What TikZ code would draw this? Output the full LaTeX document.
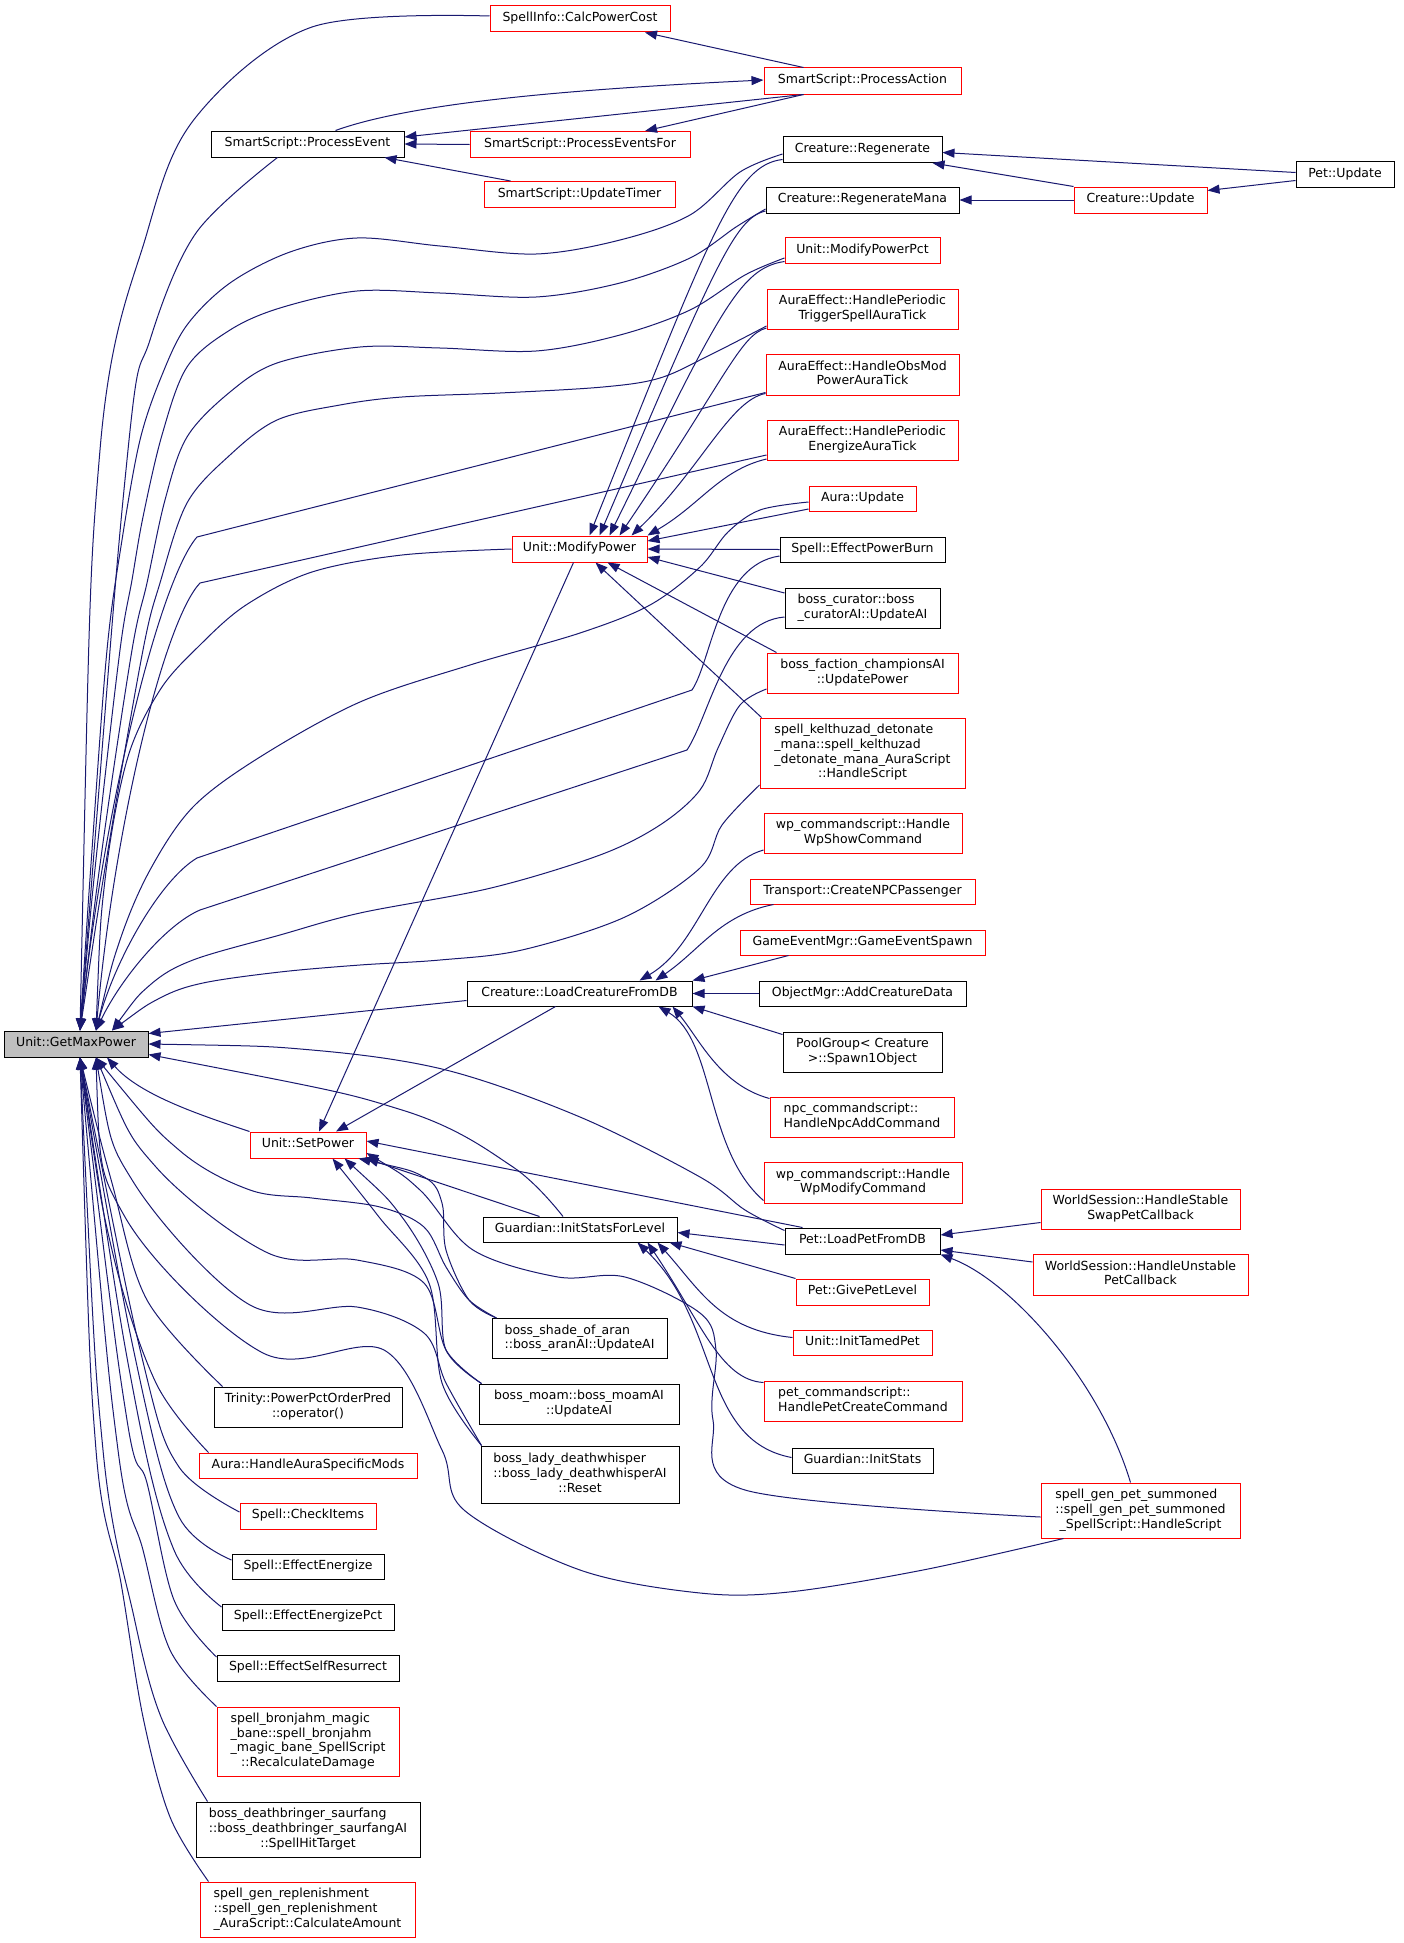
\documentclass[tikz,border=0pt]{standalone}
\usepackage{fontspec}
\setmainfont{DejaVu Sans}
\usetikzlibrary{arrows.meta}
\definecolor{edgec}{HTML}{191970}
\newcommand\nl[1]{\begin{tabular}{@{}c@{}}#1\end{tabular}}
\newcommand\mlab[2]{\begin{tabular}{@{}l@{}}#1\\\multicolumn{1}{@{}c@{}}{#2}\end{tabular}}
\tikzset{
 box/.style={draw, line width=1pt, inner sep=0pt, font=\fontsize{12.5}{14.7}\selectfont, anchor=center, minimum height=26pt},
 rbox/.style={box, draw=red},
 bbox/.style={box, draw=black},
 >={Triangle[length=12pt,width=9pt]},
 e/.style={draw=edgec, line width=1pt, <-},
 sm/.style={smooth, tension=0.55},
}
\begin{document}
\begin{tikzpicture}[x=1pt,y=-1pt]
\fill[white] (0,0) rectangle (1403,1943);
\useasboundingbox (0,0) rectangle (1403,1943);
% nodes
\node[rbox, minimum width=180pt] (spi) at (580,19) {\nl{SpellInfo::CalcPowerCost}};
\node[bbox, minimum width=193pt] (pev) at (307.5,144) {\nl{SmartScript::ProcessEvent}};
\node[rbox, minimum width=220pt] (pef) at (580,144.5) {\nl{SmartScript::ProcessEventsFor}};
\node[rbox, minimum width=191pt] (put) at (579.5,194.5) {\nl{SmartScript::UpdateTimer}};
\node[rbox, minimum width=197pt] (pac) at (862.5,81) {\nl{SmartScript::ProcessAction}};
\node[bbox, minimum width=159pt] (creg) at (862.5,149.5) {\nl{Creature::Regenerate}};
\node[bbox, minimum width=98pt] (petu) at (1345,174.5) {\nl{Pet::Update}};
\node[bbox, minimum width=193pt] (cregm) at (862.5,200) {\nl{Creature::RegenerateMana}};
\node[rbox, minimum width=133pt] (cupd) at (1140.5,200) {\nl{Creature::Update}};
\node[rbox, minimum width=155pt] (mpp) at (862.5,250.5) {\nl{Unit::ModifyPowerPct}};
\node[rbox, minimum width=191pt, minimum height=40pt] (aet) at (862.5,309) {\mlab{AuraEffect::HandlePeriodic}{TriggerSpellAuraTick}};
\node[rbox, minimum width=193pt, minimum height=41pt] (aeo) at (862.5,374.5) {\mlab{AuraEffect::HandleObsMod}{PowerAuraTick}};
\node[rbox, minimum width=191pt, minimum height=40pt] (aee) at (862.5,440) {\mlab{AuraEffect::HandlePeriodic}{EnergizeAuraTick}};
\node[rbox, minimum width=107pt, minimum height=25pt] (aup) at (862.5,498.5) {\nl{Aura::Update}};
\node[bbox, minimum width=165pt, minimum height=25pt] (epb) at (862.5,549.5) {\nl{Spell::EffectPowerBurn}};
\node[bbox, minimum width=155pt, minimum height=40pt] (cur) at (862.5,608) {\mlab{boss\_curator::boss}{\_curatorAI::UpdateAI}};
\node[rbox, minimum width=191pt, minimum height=40pt] (bfc) at (862.5,673) {\mlab{boss\_faction\_championsAI}{::UpdatePower}};
\node[rbox, minimum width=205pt, minimum height=70pt] (kel) at (862.5,753) {\mlab{spell\_kelthuzad\_detonate\\\_mana::spell\_kelthuzad\\\_detonate\_mana\_AuraScript}{::HandleScript}};
\node[rbox, minimum width=198pt, minimum height=40pt] (wps) at (863,833) {\mlab{wp\_commandscript::Handle}{WpShowCommand}};
\node[rbox, minimum width=225pt, minimum height=25pt] (tnp) at (862.5,891.5) {\nl{Transport::CreateNPCPassenger}};
\node[rbox, minimum width=245pt, minimum height=25pt] (ges) at (862.5,942.5) {\nl{GameEventMgr::GameEventSpawn}};
\node[rbox, minimum width=135pt] (mp) at (579.5,549) {\nl{Unit::ModifyPower}};
\node[bbox, minimum width=225pt, minimum height=25pt] (lcf) at (579.5,993.5) {\nl{Creature::LoadCreatureFromDB}};
\node[bbox, minimum width=207pt, minimum height=25pt] (acd) at (862.5,993.5) {\nl{ObjectMgr::AddCreatureData}};
\node[box, draw=black, fill=gray!50, minimum width=144pt] (gmp) at (76,1044) {\nl{Unit::GetMaxPower}};
\node[bbox, minimum width=159pt, minimum height=40pt] (pgs) at (862.5,1052) {\mlab{PoolGroup< Creature}{>::Spawn1Object}};
\node[rbox, minimum width=184pt, minimum height=40pt] (npc) at (862,1117) {\mlab{npc\_commandscript::}{HandleNpcAddCommand}};
\node[rbox, minimum width=116pt] (sp) at (308,1145) {\nl{Unit::SetPower}};
\node[rbox, minimum width=198pt, minimum height=41pt] (wpm) at (863,1182.5) {\mlab{wp\_commandscript::Handle}{WpModifyCommand}};
\node[bbox, minimum width=194pt, minimum height=25pt] (gsl) at (580,1229.5) {\nl{Guardian::InitStatsForLevel}};
\node[rbox, minimum width=199pt, minimum height=40pt] (hss) at (1140.5,1209) {\mlab{WorldSession::HandleStable}{SwapPetCallback}};
\node[bbox, minimum width=155pt] (plp) at (862.5,1241) {\nl{Pet::LoadPetFromDB}};
\node[rbox, minimum width=215pt, minimum height=41pt] (hus) at (1140.5,1274.5) {\mlab{WorldSession::HandleUnstable}{PetCallback}};
\node[rbox, minimum width=133pt] (gpl) at (862.5,1292) {\nl{Pet::GivePetLevel}};
\node[bbox, minimum width=175pt, minimum height=40pt] (bsa) at (579.5,1338.5) {\mlab{boss\_shade\_of\_aran}{::boss\_aranAI::UpdateAI}};
\node[rbox, minimum width=139pt, minimum height=25pt] (itp) at (862.5,1342.5) {\nl{Unit::InitTamedPet}};
\node[bbox, minimum width=188pt, minimum height=40pt] (tpp) at (308,1407) {\mlab{Trinity::PowerPctOrderPred}{::operator()}};
\node[bbox, minimum width=200pt, minimum height=40pt] (bmo) at (579,1404) {\mlab{boss\_moam::boss\_moamAI}{::UpdateAI}};
\node[rbox, minimum width=198pt, minimum height=40pt] (pcc) at (863,1401) {\mlab{pet\_commandscript::}{HandlePetCreateCommand}};
\node[bbox, minimum width=198pt, minimum height=57pt] (bld) at (580,1474.5) {\mlab{boss\_lady\_deathwhisper\\::boss\_lady\_deathwhisperAI}{::Reset}};
\node[bbox, minimum width=141pt, minimum height=25pt] (gis) at (862.5,1460.5) {\nl{Guardian::InitStats}};
\node[rbox, minimum width=218pt, minimum height=25pt] (ahs) at (308,1465.5) {\nl{Aura::HandleAuraSpecificMods}};
\node[rbox, minimum width=199pt, minimum height=55pt] (sgp) at (1140.5,1510.5) {\mlab{spell\_gen\_pet\_summoned\\::spell\_gen\_pet\_summoned}{\_SpellScript::HandleScript}};
\node[rbox, minimum width=136pt] (sci) at (308,1516) {\nl{Spell::CheckItems}};
\node[bbox, minimum width=152pt, minimum height=25pt] (see) at (308,1566.5) {\nl{Spell::EffectEnergize}};
\node[bbox, minimum width=172pt] (sep) at (308,1617) {\nl{Spell::EffectEnergizePct}};
\node[bbox, minimum width=182pt] (ssr) at (308,1668) {\nl{Spell::EffectSelfResurrect}};
\node[rbox, minimum width=182pt, minimum height=69pt] (bro) at (308,1741.5) {\mlab{spell\_bronjahm\_magic\\\_bane::spell\_bronjahm\\\_magic\_bane\_SpellScript}{::RecalculateDamage}};
\node[bbox, minimum width=224pt, minimum height=55pt] (bds) at (308,1829.5) {\mlab{boss\_deathbringer\_saurfang\\::boss\_deathbringer\_saurfangAI}{::SpellHitTarget}};
\node[rbox, minimum width=215pt, minimum height=55pt] (sgr) at (307.5,1909.5) {\mlab{spell\_gen\_replenishment\\::spell\_gen\_replenishment}{\_AuraScript::CalculateAmount}};
% anchor points on Unit::GetMaxPower
\coordinate (gT1) at ([xshift=4pt]gmp.north);
\coordinate (gT2) at ([xshift=20pt]gmp.north);
\coordinate (gT3) at ([xshift=36pt]gmp.north);
\coordinate (gR1) at ([yshift=-3pt]gmp.north east);
\coordinate (gR2) at (gmp.east);
\coordinate (gR3) at ([yshift=3pt]gmp.south east);
\coordinate (gB1) at ([xshift=4pt]gmp.south);
\coordinate (gB2) at ([xshift=20pt]gmp.south);
\coordinate (gB3) at ([xshift=31pt]gmp.south);
% GetMaxPower upper fan
\draw[e] plot[sm] coordinates {(gT1) (100,450) (147,233) (196,117) (312,27) ([yshift=3pt]spi.west)};
\draw[e] plot[sm] coordinates {(gT1) (128,450) (150,340) (196,233) ([xshift=-30pt]pev.south)};
\draw[e] plot[sm] coordinates {(gT1) (92,850) (107,650) (122,540) (140,440) (162,375) (187,325) (230,283) (290,252) (357,238) (440,246) (536,254) (620,240) (690,215) (740,172) ([yshift=-4.5pt]creg.west)};
\draw[e] plot[sm] coordinates {(gT1) (97,850) (120,650) (132,580) (143,517) (162,435) (187,367) (230,330) (280,308) (357,291) (440,293) (536,297) (620,283) (690,258) (736,227) ([yshift=-9pt]cregm.west)};
\draw[e] plot[sm] coordinates {(gT1) (102,850) (132,650) (147,583) (165,500) (187,437) (230,392) (277,363) (360,347) (440,348) (536,351) (620,335) (690,310) (745,275) ([yshift=-7.5pt]mpp.west)};
\draw[e] plot[sm] coordinates {(gT1) (108,850) (143,650) (160,583) (187,503) (230,455) (277,420) (340,405) (402,397) (500,393) (603,387) (660,378) (710,355) ([yshift=-17pt]aet.west)};
\draw[e] (gT1) .. controls (105,800) and (160,580) .. (197,537) -- ([yshift=-18pt]aeo.west);
\draw[e] (gT2) .. controls (115,820) and (165,620) .. (200,583) -- ([yshift=-15pt]aee.west);
\draw[e] plot[sm] coordinates {(gT2) (105,880) (127,760) (160,690) (200,645) (246,605) (312,572) (402,555) (mp.west)};
\draw[e] plot[sm] coordinates {(gT2) (120,940) (150,870) (193,807) (260,757) (360,702) (470,665) (580,633) (650,605) (700,567) (728,532) (760,510) ([yshift=-3.5pt]aup.west)};
\draw[e] (gT2) .. controls (115,960) and (160,880) .. (197,858) -- (692,690) .. controls (712,660) and (718,565) .. ([yshift=-6.5pt]epb.west);
\draw[e] (gT2) .. controls (120,980) and (165,925) .. (200,910) -- (687,750) .. controls (710,715) and (725,622) .. ([yshift=-9pt]cur.west);
\draw[e] plot[sm] coordinates {(gT3) (150,985) (193,960) (280,935) (360,913) (491,888) (600,855) (660,825) (700,790) (718,748) (740,705) ([yshift=-16pt]bfc.west)};
\draw[e] plot[sm] coordinates {(gT3) (160,998) (203,983) (280,972) (360,965) (440,960) (522,950) (625,917) (700,868) (722,825) ([yshift=-32pt]kel.west)};
% GetMaxPower right side
\draw[e] (gR1) -- ([yshift=-7pt]lcf.west);
\draw[e] plot[sm] coordinates {(gR2) (312,1050) (446,1070) (580,1117) (700,1177) (745,1210) ([yshift=-3pt]plp.north west)};
\draw[e] plot[sm] coordinates {(gR3) (402,1110) (513,1167) ([xshift=-17pt]gsl.north)};
% GetMaxPower lower fan
\draw[e] (gB3) .. controls (140,1095) and (200,1115) .. (sp.north west);
\draw[e] plot[sm] coordinates {(gB2) (179,1150) (250,1190) (312,1198) (380,1207) (424,1227) (446,1267) (469,1300) ([xshift=5pt]bsa.north west)};
\draw[e] plot[sm] coordinates {(gB2) (156,1167) (268,1253) (357,1260) (424,1283) (446,1350) ([xshift=3pt]bmo.north west)};
\draw[e] plot[sm] coordinates {(gB2) (134,1183) (250,1305) (357,1307) (424,1333) (446,1383) ([xshift=1pt]bld.north west)};
\draw[e] plot[sm] coordinates {(gB2) (125,1217) (263,1353) (384,1350) (442,1450) (464,1510) (580,1570) (700,1593) (789,1592) (923,1570) ([xshift=23pt]sgp.south west)};
\draw[e] plot[sm] coordinates {(gB1) (112,1183) (147,1300) ([xshift=9pt]tpp.north west)};
\draw[e] plot[sm] coordinates {(gB1) (112,1250) (156,1383) ([xshift=10pt]ahs.north west)};
\draw[e] plot[sm] coordinates {(gB1) (145,1370) (179,1467) ([yshift=4pt]sci.west)};
\draw[e] plot[sm] coordinates {(gB1) (140,1380) (179,1517) ([yshift=6.5pt]see.west)};
\draw[e] plot[sm] coordinates {(gB1) (135,1400) (174,1550) ([yshift=10pt]sep.west)};
\draw[e] plot[sm] coordinates {(gB1) (127,1420) (147,1483) (174,1600) ([yshift=11pt]ssr.west)};
\draw[e] plot[sm] coordinates {(gB1) (118,1450) (143,1550) (170,1650) (bro.north west)};
\draw[e] plot[sm] coordinates {(gB1) (103,1450) (134,1617) (161,1717) ([xshift=12pt]bds.north west)};
\draw[e] plot[sm] coordinates {(gB1) (96,1450) (121,1583) (143,1717) (170,1817) ([xshift=9pt]sgr.north west)};
% SmartScript group
\draw[e] (pev.east) -- (pef.west);
\draw[e] ([xshift=-20pt]pev.south east) -- ([xshift=27pt]put.north west);
\draw[e] ([yshift=7pt]pev.east) -- ([xshift=40pt]pac.south west);
\draw[e] ([yshift=1pt]pac.west) .. controls (600,88) and (420,100) .. ([xshift=28pt]pev.north);
\draw[e] ([xshift=65pt]pef.north) -- ([xshift=40pt]pac.south west);
\draw[e] ([xshift=65pt]spi.south) -- ([xshift=40pt]pac.north west);
% Regenerate group
\draw[e] ([yshift=-3pt]creg.east) -- ([yshift=2pt]petu.west);
\draw[e] ([xshift=-10pt]creg.south east) -- (cupd.north west);
\draw[e] (cregm.east) -- (cupd.west);
\draw[e] ([yshift=-4pt]cupd.north east) -- ([yshift=-6pt]petu.west);
% ModifyPower callers
\draw[e] ([xshift=10pt]mp.north) .. controls (712,230) and (735,165) .. ([yshift=-10pt]creg.west);
\draw[e] ([xshift=20pt]mp.north) .. controls (715,265) and (735,218) .. ([yshift=-11pt]cregm.west);
\draw[e] ([xshift=30pt]mp.north) .. controls (720,310) and (740,268) .. ([yshift=-11pt]mpp.west);
\draw[e] ([xshift=40pt]mp.north) .. controls (725,380) and (740,335) .. ([yshift=-19pt]aet.west);
\draw[e] ([xshift=-16pt]mp.north east) .. controls (700,470) and (730,400) .. ([yshift=-19pt]aeo.west);
\draw[e] (mp.north east) .. controls (700,505) and (720,470) .. ([yshift=-19pt]aee.west);
\draw[e] ([yshift=8pt]mp.east) -- ([yshift=-10.5pt]aup.west);
\draw[e] (mp.east) -- (epb.west);
\draw[e] ([yshift=-8pt]mp.east) -- ([yshift=15pt]cur.west);
\draw[e] ([xshift=28pt]mp.south) -- ([xshift=10pt]bfc.north west);
\draw[e] ([xshift=16pt]mp.south) -- ([xshift=2pt]kel.north west);
% SetPower callers
\draw[e] ([xshift=11pt]sp.north) -- ([xshift=-6pt]mp.south);
\draw[e] ([xshift=28pt]sp.north) -- ([xshift=-24pt]lcf.south);
\draw[e] (sp.south east) -- ([xshift=57pt]gsl.north west);
\draw[e] ([yshift=4pt]sp.east) -- ([xshift=18pt]plp.north west);
\draw[e] plot[sm] coordinates {([xshift=-8pt]sp.south east) (424,1177) (442,1203) (446,1250) (469,1300) ([xshift=5pt]bsa.north west)};
\draw[e] plot[sm] coordinates {([xshift=-22pt]sp.south east) (402,1217) (438,1283) (446,1350) ([xshift=3pt]bmo.north west)};
\draw[e] plot[sm] coordinates {([xshift=-34pt]sp.south east) (379,1217) (429,1283) (442,1383) ([xshift=1pt]bld.north west)};
\draw[e] plot[sm] coordinates {([yshift=-8pt]sp.east) (420,1190) (473,1250) (558,1277) (625,1277) (700,1313) (716,1350) (713,1420) (745,1490) ([yshift=-6.5pt]sgp.west)};
% LoadCreatureFromDB callers
\draw[e] ([xshift=60pt]lcf.north) .. controls (700,945) and (710,865) .. ([yshift=-17pt]wps.west);
\draw[e] ([xshift=76pt]lcf.north) .. controls (700,950) and (720,915) .. ([xshift=24pt]tnp.south west);
\draw[e] (lcf.north east) -- ([xshift=49pt]ges.south west);
\draw[e] (lcf.east) -- (acd.west);
\draw[e] (lcf.south east) -- ([yshift=-3pt]pgs.north west);
\draw[e] ([xshift=-20pt]lcf.south east) .. controls (700,1040) and (720,1085) .. ([yshift=-2pt]npc.north west);
\draw[e] ([xshift=-34pt]lcf.south east) .. controls (715,1040) and (705,1150) .. ([yshift=-18pt]wpm.west);
% Guardian::InitStatsForLevel callers
\draw[e] ([yshift=-3pt]gsl.east) -- ([yshift=-4pt]plp.west);
\draw[e] ([xshift=-8pt]gsl.south east) -- (gpl.north west);
\draw[e] ([xshift=-20pt]gsl.south east) .. controls (700,1290) and (720,1330) .. ([yshift=5pt]itp.west);
\draw[e] ([xshift=-30pt]gsl.south east) .. controls (700,1320) and (720,1380) .. ([yshift=-2pt]pcc.north west);
\draw[e] ([xshift=-40pt]gsl.south east) .. controls (720,1320) and (700,1440) .. ([yshift=3pt]gis.west);
% Pet::LoadPetFromDB callers
\draw[e] ([yshift=6pt]plp.east) -- ([yshift=7pt]hss.south west);
\draw[e] ([yshift=-9pt]plp.east) -- ([yshift=12.5pt]hus.west);
\draw[e] (plp.south east) .. controls (1010,1280) and (1100,1380) .. ([xshift=-10pt]sgp.north);
\end{tikzpicture}
\end{document}
